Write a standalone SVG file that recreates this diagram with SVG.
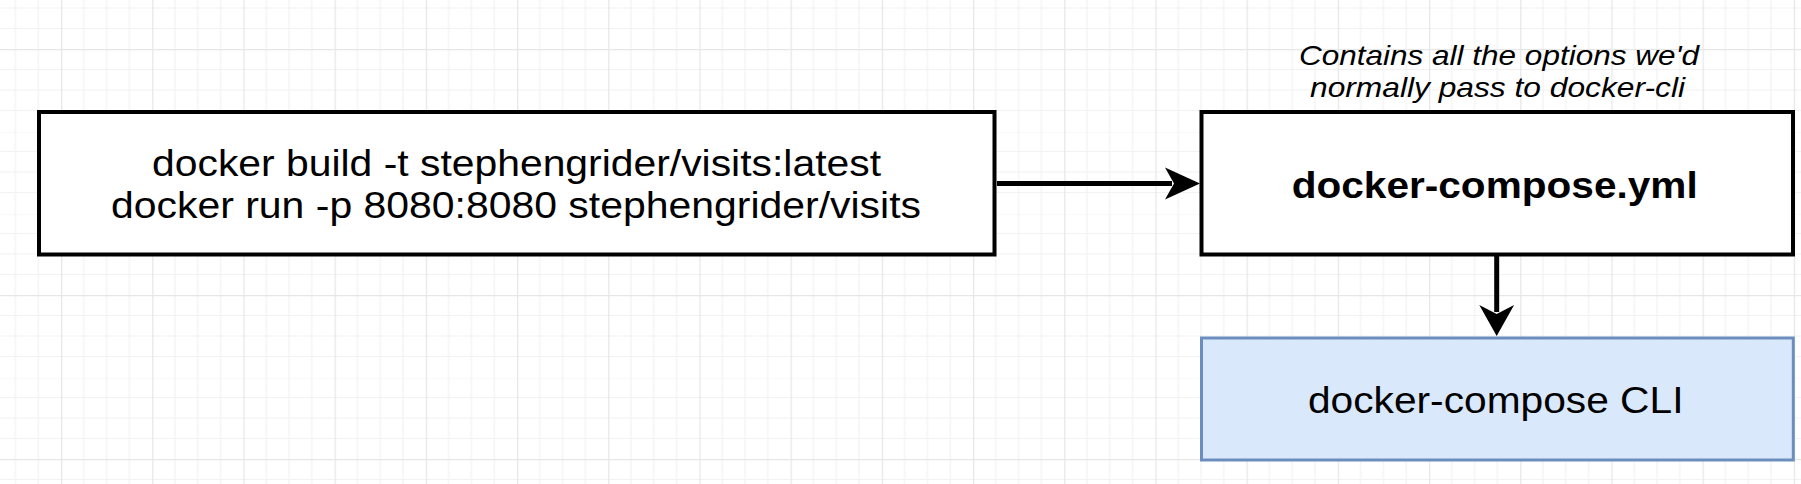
<svg xmlns="http://www.w3.org/2000/svg" width="1801" height="484" viewBox="0 0 1801 484">
  <style>
    .box { fill: #ffffff; stroke: #000000; stroke-width: 4; }
    .blue { fill: #dae8fc; stroke: #6c8ebf; stroke-width: 3; }
    .t { font-family: "Liberation Sans", Arial, Helvetica, sans-serif; font-size: 36px; fill: #000000; text-anchor: middle; }
    .b { font-weight: bold; }
    .note { font-family: "Liberation Sans", Arial, Helvetica, sans-serif; font-size: 28px; font-style: italic; fill: #000000; text-anchor: middle; }
    .edge { stroke: #000000; stroke-width: 5; fill: none; }
    .head { fill: #000000; stroke: none; }
  </style>
  <defs>
    <pattern id="grid" patternUnits="userSpaceOnUse" x="61" y="49" width="91.2" height="82">
      <g stroke="#f2f2f2" stroke-width="1.2">
        <line x1="22.8" y1="0" x2="22.8" y2="82"/>
        <line x1="45.6" y1="0" x2="45.6" y2="82"/>
        <line x1="68.4" y1="0" x2="68.4" y2="82"/>
        <line x1="0" y1="20.5" x2="91.2" y2="20.5"/>
        <line x1="0" y1="41" x2="91.2" y2="41"/>
        <line x1="0" y1="61.5" x2="91.2" y2="61.5"/>
      </g>
      <g stroke="#e6e6e6" stroke-width="1.5">
        <line x1="0.5" y1="0" x2="0.5" y2="82"/>
        <line x1="0" y1="0.5" x2="91.2" y2="0.5"/>
      </g>
    </pattern>
  </defs>
  <rect x="0" y="0" width="1801" height="484" fill="#ffffff"/>
  <rect x="0" y="0" width="1801" height="484" fill="url(#grid)"/>

  <g id="connectors">
    <g id="edge-docker-to-compose">
      <line class="edge" x1="997" y1="183.5" x2="1172" y2="183.5"/>
      <polygon class="head" points="1200,183.5 1165,167.5 1174,183.5 1165,199.5"/>
    </g>
    <g id="edge-compose-to-cli">
      <line class="edge" x1="1496.7" y1="256" x2="1496.7" y2="312"/>
      <polygon class="head" points="1496.7,336 1479.3,305 1496.7,314 1514.1,305"/>
    </g>
  </g>

  <g id="node-docker-commands">
    <rect class="box" x="39" y="112" width="955.5" height="142.5"/>
    <text class="t" x="516.5" y="175.5" textLength="729" lengthAdjust="spacingAndGlyphs">docker build -t stephengrider/visits:latest</text>
    <text class="t" x="516" y="217.5" textLength="810" lengthAdjust="spacingAndGlyphs">docker run -p 8080:8080 stephengrider/visits</text>
  </g>

  <g id="node-compose-yml">
    <text class="note" x="1499" y="64.5" textLength="400" lengthAdjust="spacingAndGlyphs">Contains all the options we'd</text>
    <text class="note" x="1497.5" y="97.3" textLength="375" lengthAdjust="spacingAndGlyphs">normally pass to docker-cli</text>
    <rect class="box" x="1201.5" y="112" width="591.5" height="142.5"/>
    <text class="t b" x="1494.7" y="197.5" textLength="406" lengthAdjust="spacingAndGlyphs">docker-compose.yml</text>
  </g>

  <g id="node-compose-cli">
    <rect class="blue" x="1201.5" y="338" width="591.8" height="122"/>
    <text class="t" x="1495.7" y="413.3" textLength="375.5" lengthAdjust="spacingAndGlyphs">docker-compose CLI</text>
  </g>
</svg>
